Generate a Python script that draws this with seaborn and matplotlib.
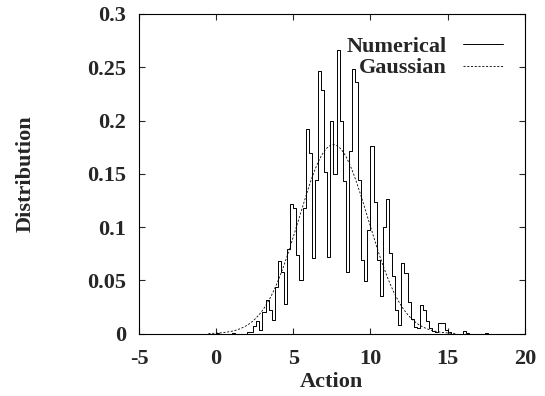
import numpy as np
import pandas as pd
import matplotlib
matplotlib.use('Agg')
import matplotlib.pyplot as plt
import seaborn as sns
from matplotlib.lines import Line2D

# histogram: bin width 0.2, edges from 0 to 18
bin_width = 0.2
bin_start = 0.0
heights = [
    0.001, 0, 0, 0, 0, 0.001, 0, 0, 0, 0,                           # 0 - 2
    0.002, 0.002, 0.007, 0.012, 0.004, 0.020, 0.032, 0.022, 0.013, 0.044,  # 2 - 4
    0.068, 0.058, 0.028, 0.080, 0.122, 0.118, 0.074, 0.050, 0.118, 0.192,  # 4 - 6
    0.170, 0.071, 0.144, 0.246, 0.229, 0.152, 0.072, 0.200, 0.150, 0.266,  # 6 - 8
    0.200, 0.143, 0.058, 0.171, 0.248, 0.236, 0.144, 0.069, 0.050, 0.097,  # 8 - 10
    0.176, 0.124, 0.069, 0.035, 0.100, 0.126, 0.076, 0.054, 0.022, 0.008,  # 10 - 12
    0.066, 0.057, 0.030, 0.014, 0.006, 0.005, 0.027, 0.022, 0.012, 0.005,  # 12 - 14
    0.003, 0.002, 0.010, 0.010, 0.004, 0.002, 0, 0, 0, 0,                  # 14 - 16
    0.003, 0.001, 0, 0, 0, 0, 0, 0.001, 0, 0,                          # 16 - 18
]
edges = [bin_start + bin_width * i for i in range(len(heights) + 1)]
hist_df = pd.DataFrame({'action': [e + bin_width / 2 for e in edges[:-1]],
                        'dist': heights})

# gaussian fit
gauss_mean = 7.6
gauss_sigma = 2.25
gauss_range = (-0.5, 15.5)

x_ticks = [-5, 0, 5, 10, 15, 20]
y_ticks = [0, 0.05, 0.1, 0.15, 0.2, 0.25, 0.3]
y_labels = ['0', '0.05', '0.1', '0.15', '0.2', '0.25', '0.3']

sns.set_style('ticks')
plt.rcParams['font.family'] = ['Liberation Serif', 'DejaVu Serif']
plt.rcParams['font.weight'] = 'bold'
plt.rcParams['axes.unicode_minus'] = False

fig = plt.figure(figsize=(5.45, 3.96), dpi=100)
ax = fig.add_axes([0.255, 0.157, 0.708, 0.808])

sns.histplot(data=hist_df, x='action', weights='dist', bins=edges, element='step',
             fill=False, color='black', linewidth=0.7, ax=ax)

xs = np.linspace(gauss_range[0], gauss_range[1], 400)
gauss = np.exp(-(xs - gauss_mean) ** 2 / (2 * gauss_sigma ** 2)) / (gauss_sigma * np.sqrt(2 * np.pi))
sns.lineplot(x=xs, y=gauss, color='black', linewidth=0.6, ax=ax)
ax.lines[-1].set_dashes((2.5, 2))

ax.set_xlim(-5, 20)
ax.set_ylim(0, 0.3)
ax.set_xticks(x_ticks)
ax.set_xticklabels([str(t) for t in x_ticks])
ax.set_yticks(y_ticks)
ax.set_yticklabels(y_labels)
ax.tick_params(direction='in', length=4, width=0.8, top=True, right=True,
               labelsize=16, pad=9)
ax.tick_params(axis='x', pad=11)
for lab in ax.get_xticklabels() + ax.get_yticklabels():
    lab.set_fontweight('bold')
for sp in ax.spines.values():
    sp.set_visible(True)
    sp.set_linewidth(0.8)
    sp.set_color('black')

ax.set_xlabel('Action', fontsize=16, fontweight='bold', labelpad=2)
ax.set_ylabel('Distribution', fontsize=16, fontweight='bold', labelpad=37)

handles = [Line2D([], [], color='black', linewidth=0.7),
           Line2D([], [], color='black', linewidth=0.6, dashes=(2.5, 2))]
ax.legend(handles, ['Numerical', 'Gaussian'], loc='upper right', frameon=False,
          markerfirst=False, prop={'weight': 'bold', 'size': 16},
          handlelength=1.8, handletextpad=0.7, labelspacing=0.05,
          borderaxespad=0.6)

fig.savefig('out.png', dpi=100)
